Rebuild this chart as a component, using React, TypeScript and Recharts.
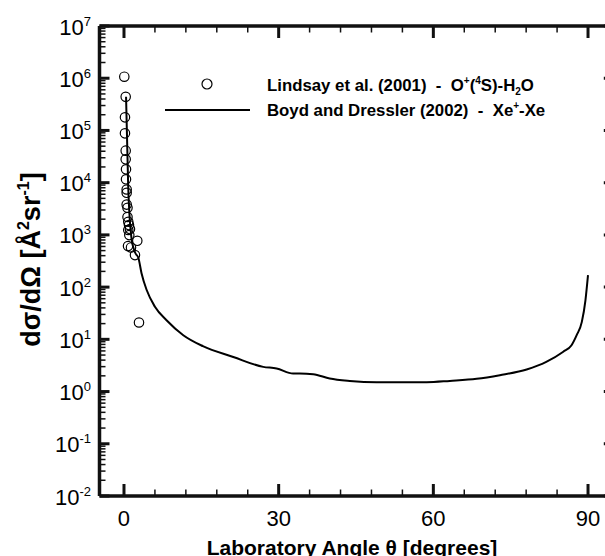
// Differential cross section vs laboratory angle (log y), Recharts
import React from "react";
import { ComposedChart, XAxis, YAxis, Scatter, Line, Legend } from "recharts";

const FONT = '"Liberation Sans", Arial, Helvetica, sans-serif';
const INK = "#000";
const FRAME = "#111";

/* ---- x axis ---- */
const X_DOMAIN = [-4.75, 95];
const X_MAJOR = [0, 30, 60, 90];
const X_TICKS = [0, 6, 12, 18, 24, 30, 36, 42, 48, 54, 60, 66, 72, 78, 84, 90];

/* ---- y axis ---- */
const Y_DOMAIN = [1e-2, 1e7];
const Y_DECADES = [1e-2, 1e-1, 1, 10, 1e2, 1e3, 1e4, 1e5, 1e6, 1e7];
const Y_EXPONENTS = ["-2", "-1", "0", "1", "2", "3", "4", "5", "6", "7"];
const Y_MINOR_FACTORS = [2, 3, 4, 5, 6, 7, 8, 9];
const Y_TICKS = Y_DECADES.flatMap((d, i) =>
  i < Y_DECADES.length - 1 ? [d, ...Y_MINOR_FACTORS.map((f) => d * f)] : [d]
);

/* ---- Lindsay et al. (2001) : O+(4S)-H2O ---- */
const LINDSAY_THETA = [
  0.06, 0.33, 0.19, 0.19, 0.33, 0.33, 0.39, 0.39, 0.52, 0.52, 0.52, 0.68,
  0.68, 0.83, 0.97, 0.83, 1.16, 1.03, 2.58, 0.78, 1.36, 2.13, 2.91,
];
const LINDSAY_SIGMA = [
  1.07e6, 4.4e5, 1.78e5, 8.8e4, 4.1e4, 2.8e4, 1.8e4, 1.16e4, 7.4e3, 6.4e3,
  3.8e3, 3.3e3, 2.2e3, 1.78e3, 1.54e3, 1.24e3, 1.29e3, 990, 770, 610, 575,
  410, 21,
];

/* ---- Boyd and Dressler (2002) : Xe+-Xe ---- */
const BOYD_THETA = [
  0.4, 0.8, 1.5, 2.2, 2.8, 3.4, 4.4, 6.0, 8.3, 11.5, 15.3, 21.2, 27.0, 29.6,
  32.8, 34.1, 36.7, 39.9, 43.8, 49.0, 58.7, 63.2, 68.4, 72.9, 78.1, 81.9,
  85.2, 86.8, 87.8, 88.8, 89.5, 90,
];
const BOYD_SIGMA = [
  4.4e5, 9.8e3, 800, 450, 360, 185, 88, 42, 23, 12, 7.4, 4.6, 2.97, 2.77,
  2.22, 2.22, 2.15, 1.78, 1.6, 1.51, 1.51, 1.6, 1.75, 2.06, 2.65, 3.7, 5.8,
  7.7, 12, 21.6, 56, 170,
];

const lindsayData = LINDSAY_THETA.map((t, i) => ({ theta: t, sigma: LINDSAY_SIGMA[i] }));
const boydData = BOYD_THETA.map((t, i) => ({ theta: t, sigma: BOYD_SIGMA[i] }));

/* ---------- ticks (drawn inward, like the original) ---------- */
const LeftTick = (p: any) => {
  const x = Number(p.x);
  const y = Number(p.y);
  const i = Y_DECADES.indexOf(p.payload.value);
  const major = i >= 0;
  return (
    <g>
      <line x1={x} x2={x + (major ? 10 : 6)} y1={y} y2={y} stroke={FRAME} strokeWidth={major ? 3 : 1.5} />
      {major && (
        <text x={x - 8.5} y={y + 8.5} textAnchor="end" fontFamily={FONT} fontSize={22} fill={INK}>
          10
          <tspan dy={-9} fontSize={13}>{Y_EXPONENTS[i]}</tspan>
        </text>
      )}
    </g>
  );
};

const RightTick = (p: any) => {
  const x = Number(p.x);
  const y = Number(p.y);
  const major = Y_DECADES.includes(p.payload.value);
  return (
    <g>
      <line x1={x} x2={x - (major ? 10 : 6)} y1={y} y2={y} stroke={FRAME} strokeWidth={major ? 3 : 1.5} />
    </g>
  );
};

const BottomTick = (p: any) => {
  const x = Number(p.x);
  const y = Number(p.y);
  const major = X_MAJOR.includes(p.payload.value);
  return (
    <g>
      <line x1={x} x2={x} y1={y} y2={y - (major ? 12 : 6.5)} stroke={FRAME} strokeWidth={major ? 3 : 1.5} />
      {major && (
        <text x={x} y={y + 29.5} textAnchor="middle" fontFamily={FONT} fontSize={22} fill={INK}>
          {p.payload.value}
        </text>
      )}
    </g>
  );
};

const TopTick = (p: any) => {
  const x = Number(p.x);
  const y = Number(p.y);
  const major = X_MAJOR.includes(p.payload.value);
  return (
    <g>
      <line x1={x} x2={x} y1={y} y2={y + (major ? 12 : 6.5)} stroke={FRAME} strokeWidth={major ? 3 : 1.5} />
    </g>
  );
};

/* ---------- axis titles ---------- */
const YTitle = (props: any) => {
  const vb = props.viewBox;
  const cx = vb.x + 40;
  const cy = vb.y + vb.height / 2 - 1.5;
  return (
    <text
      x={cx}
      y={cy}
      transform={`rotate(-90 ${cx} ${cy})`}
      textAnchor="middle"
      fontFamily={FONT}
      fontWeight="bold"
      fontSize={27}
      fill={INK}
    >
      {"d\u03c3/d\u03a9 [\u00c5"}
      <tspan dy={-11} fontSize={16}>2</tspan>
      <tspan dy={11}>sr</tspan>
      <tspan dy={-11} fontSize={16}>-1</tspan>
      <tspan dy={11}>]</tspan>
    </text>
  );
};

const XTitle = (props: any) => {
  const vb = props.viewBox;
  return (
    <text
      x={352}
      y={vb.y + 58.5}
      textAnchor="middle"
      fontFamily={FONT}
      fontWeight="bold"
      fontSize={21}
      fill={INK}
    >
      {"Laboratory Angle \u03b8 [degrees]"}
    </text>
  );
};

/* ---------- legend ---------- */
const LegendBox = () => (
  <svg width={420} height={60} style={{ display: "block", overflow: "visible" }}>
    <circle cx={57} cy={14} r={5} fill="none" stroke={INK} strokeWidth={1.2} />
    <line x1={15} x2={100} y1={40} y2={40} stroke={INK} strokeWidth={2} />
    <text x={117} y={21} fontFamily={FONT} fontWeight="bold" fontSize={16.8} fill={INK}>
      {"Lindsay et al. (2001)\u00a0\u00a0-\u00a0\u00a0O"}
      <tspan dy={-7} fontSize={10}>+</tspan>
      <tspan dy={7}>(</tspan>
      <tspan dy={-7} fontSize={10}>4</tspan>
      <tspan dy={7}>S)-H</tspan>
      <tspan dy={4} fontSize={10}>2</tspan>
      <tspan dy={-4}>O</tspan>
    </text>
    <text x={117} y={46} fontFamily={FONT} fontWeight="bold" fontSize={16.8} fill={INK}>
      {"Boyd and Dressler (2002)\u00a0\u00a0-\u00a0\u00a0Xe"}
      <tspan dy={-7} fontSize={10}>+</tspan>
      <tspan dy={7}>-Xe</tspan>
    </text>
  </svg>
);

const Ring = (p: any) => (
  <circle cx={p.cx} cy={p.cy} r={4.7} fill="none" stroke={INK} strokeWidth={1.2} />
);

const AXIS_LINE = { stroke: FRAME, strokeWidth: 3.5 };

export default function App() {
  return (
    <div style={{ position: "absolute", left: 0, top: 0, width: 605, height: 556, overflow: "hidden" }}>
      <ComposedChart width={620} height={556} margin={{ top: 25, right: 5.2, left: 0, bottom: 0 }}>
        <XAxis
          xAxisId="b"
          dataKey="theta"
          type="number"
          domain={X_DOMAIN}
          ticks={X_TICKS}
          interval={0}
          allowDataOverflow
          height={60}
          tickSize={0}
          tickMargin={0}
          tickLine={false}
          axisLine={AXIS_LINE}
          tick={BottomTick}
          label={XTitle}
        />
        <XAxis
          xAxisId="t"
          orientation="top"
          dataKey="theta"
          type="number"
          domain={X_DOMAIN}
          ticks={X_TICKS}
          interval={0}
          allowDataOverflow
          height={1}
          tickSize={0}
          tickMargin={0}
          tickLine={false}
          axisLine={AXIS_LINE}
          tick={TopTick}
        />
        <YAxis
          yAxisId="l"
          dataKey="sigma"
          type="number"
          scale="log"
          domain={Y_DOMAIN}
          ticks={Y_TICKS}
          interval={0}
          allowDataOverflow
          width={99.5}
          tickSize={0}
          tickMargin={0}
          tickLine={false}
          axisLine={AXIS_LINE}
          tick={LeftTick}
          label={YTitle}
        />
        <YAxis
          yAxisId="r"
          orientation="right"
          dataKey="sigma"
          type="number"
          scale="log"
          domain={Y_DOMAIN}
          ticks={Y_TICKS}
          interval={0}
          allowDataOverflow
          width={1}
          tickSize={0}
          tickMargin={0}
          tickLine={false}
          axisLine={AXIS_LINE}
          tick={RightTick}
        />
        <Legend
          layout="horizontal"
          verticalAlign="middle"
          align="center"
          wrapperStyle={{ position: "absolute", left: 150, top: 70, width: 420, height: 60 }}
          content={() => <LegendBox />}
        />
        <Line
          xAxisId="b"
          yAxisId="l"
          data={boydData}
          dataKey="sigma"
          type="monotone"
          stroke={INK}
          strokeWidth={2}
          dot={false}
          isAnimationActive={false}
        />
        <Scatter
          xAxisId="b"
          yAxisId="l"
          data={lindsayData}
          dataKey="sigma"
          shape={Ring}
          isAnimationActive={false}
        />
      </ComposedChart>
    </div>
  );
}
